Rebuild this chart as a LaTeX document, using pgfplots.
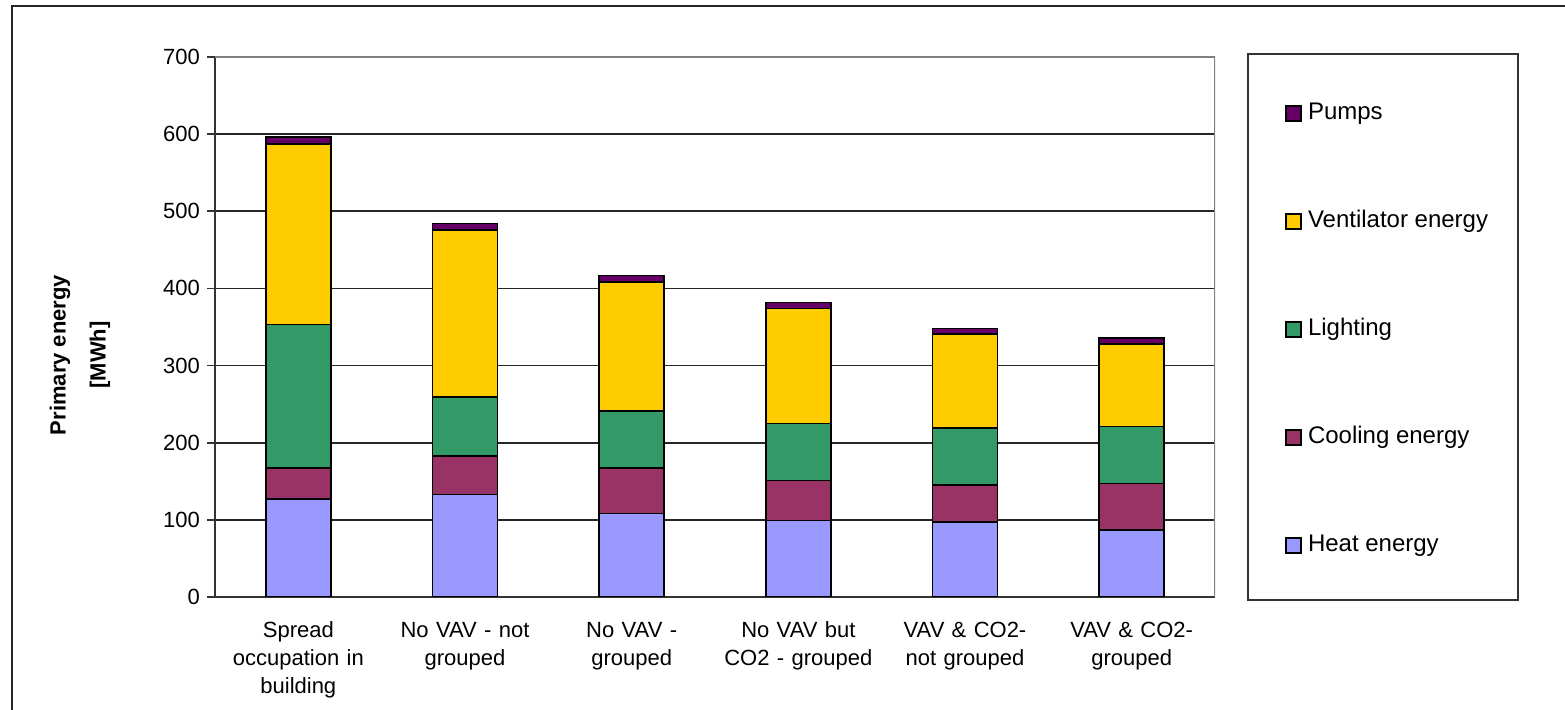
\documentclass[border=0pt]{standalone}
\usepackage{pgfplots}
\usepackage{pgfplotstable}
\pgfplotsset{compat=1.18}
\usepackage{fontspec}
\setmainfont{Liberation Sans}

\definecolor{heat}{HTML}{9999FF}
\definecolor{cool}{HTML}{993366}
\definecolor{light}{HTML}{339966}
\definecolor{vent}{HTML}{FFCC00}
\definecolor{pump}{HTML}{660066}

% primary energy in MWh per scenario
\pgfplotstableread{
x heat cool light vent pumps
0  127  40  186  234  9
1  133  50   76  217  8
2  108  59   74  167  9
3   99  52   74  149  8
4   97  48   74  122  7
5   87  60   74  107  8
}\energy

\begin{document}
\begin{tikzpicture}
% 1 px of the reference = 0.5pt
\useasboundingbox (0pt,0pt) rectangle (782.5pt,355pt);
\draw[line width=0.9pt, black!85] (6pt,-10pt) rectangle (800pt,352pt);
\draw[line width=0.9pt, black!80] (624pt,55pt) rectangle (759pt,328pt);
\node[rotate=90, align=center, font=\bfseries\fontsize{11}{20}\selectfont]
  at (40pt,177.5pt) {Primary energy\\{[MWh]}};

\begin{axis}[
    at={(107.5pt,56.5pt)}, anchor=south west,
    scale only axis, width=500pt, height=270pt,
    ybar stacked, bar width=32.5pt,
    xmin=-0.5, xmax=5.5, ymin=0, ymax=700,
    ytick={0,100,...,700},
    ymajorgrids, major grid style={black!85, line width=0.8pt},
    xtick={0,...,5},
    xticklabels={Spread\\occupation in\\building, No VAV - not\\grouped, No VAV -\\grouped,
      No VAV but\\CO2 - grouped, VAV \& CO2-\\not grouped, VAV \& CO2-\\grouped},
    xticklabel style={align=center, text width=85pt, font=\fontsize{11}{14}\selectfont, yshift=-5pt},
    major x tick style={draw=none},
    extra x ticks={-0.5,0.5,...,5.5}, extra x tick labels={},
    extra x tick style={grid=none, major tick length=4pt, major tick style={black!80, line width=0.8pt}},
    tick align=outside, major tick length=4pt,
    ytick style={black!80, line width=0.8pt},
    yticklabel style={font=\fontsize{11}{13}\selectfont},
    /pgf/number format/assume math mode=true,
    axis x line*=bottom, axis y line*=left,
    axis line style={black!80, line width=0.8pt},
    every axis plot/.append style={draw=black, line width=0.8pt},
    reverse legend,
    legend cell align=left,
    legend style={at={(1.07,0.92)}, anchor=north west, draw=none, fill=none,
      row sep=41pt, inner sep=0pt,
      nodes={inner sep=1pt, text height=8.5pt, text depth=2.5pt, font=\fontsize{12}{14}\selectfont}},
    legend image code/.code={\draw[#1] (0pt,-3.75pt) rectangle (7.5pt,3.75pt);},
  ]
  \addplot[fill=heat] table[x=x, y=heat] {\energy};
  \addlegendentry{\,Heat energy}
  \addplot[fill=cool] table[x=x, y=cool] {\energy};
  \addlegendentry{\,Cooling energy}
  \addplot[fill=light] table[x=x, y=light] {\energy};
  \addlegendentry{\,Lighting}
  \addplot[fill=vent] table[x=x, y=vent] {\energy};
  \addlegendentry{\,Ventilator energy}
  \addplot[fill=pump] table[x=x, y=pumps] {\energy};
  \addlegendentry{\,Pumps}
  \draw[gray, line width=0.8pt] (rel axis cs:0,1) -- (rel axis cs:1,1) -- (rel axis cs:1,0);
\end{axis}
\end{tikzpicture}
\end{document}
